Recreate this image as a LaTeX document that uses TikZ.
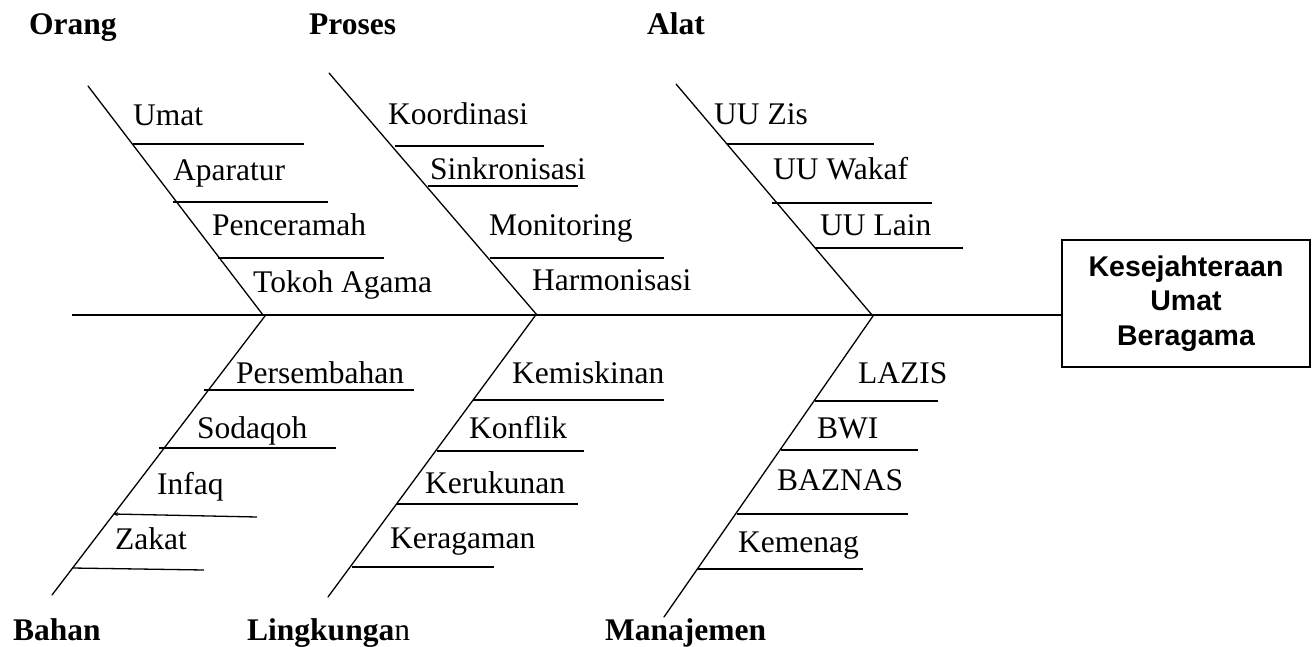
\documentclass[tikz,border=0pt]{standalone}
\usepackage{fontspec}
\setmainfont{Liberation Serif}
\newfontfamily\boxfont{Liberation Sans}
\usetikzlibrary{arrows.meta}
\tikzset{
  bone/.style={line width=1.3pt, line cap=round},
  rib/.style={line width=1.3pt},
  lbl/.style={anchor=base west, inner sep=0pt, font=\fontsize{31.5}{36}\selectfont},
  head/.style={anchor=base west, inner sep=0pt, font=\fontsize{31.5}{36}\selectfont\bfseries},
  effect/.style={draw, line width=1.3pt, minimum width=248pt, minimum height=127pt, inner sep=0pt}
}
\begin{document}
\begin{tikzpicture}[x=1pt,y=-1pt]
\useasboundingbox (0,0) rectangle (1314,647);
% effect box
\node[effect] (box) at (1186,303.5) {};
\node[align=center, inner sep=0pt, font=\boxfont\bfseries\fontsize{28.5}{34.5}\selectfont] (boxtxt) at (1186,303.5) {Kesejahteraan\\Umat\\Beragama};
% spine
\coordinate (tail) at (72,315);
\draw[rib] (tail) -- (tail -| box.west);
% bone coordinates
\coordinate (oT) at (88,86);   \coordinate (oJ) at (263,315);
\coordinate (pT) at (329,73);  \coordinate (pJ) at (537,315);
\coordinate (aT) at (676,84);  \coordinate (aJ) at (872,315);
\coordinate (bJ) at (265,316); \coordinate (bE) at (52,595);
\coordinate (lJ) at (535,316); \coordinate (lE) at (328,597);
\coordinate (mJ) at (873,316); \coordinate (mE) at (664,617);
\draw[bone] (oT) -- (oJ);
\draw[bone] (pT) -- (pJ);
\draw[bone] (aT) -- (aJ);
\draw[bone] (bJ) -- (bE);
\draw[bone] (lJ) -- (lE);
\draw[bone] (mJ) -- (mE);
% headings
\node[head] (hOrang) at (29,35) {Orang};
\node[head] (hProses) at (309,35) {Proses};
\node[head] (hAlat) at (647,35) {Alat};
\node[head] (hBahan) at (13,640) {Bahan};
\node[lbl] (hLing) at (247,640) {{\bfseries Lingkunga}n};
\node[head] (hMan) at (605,640) {Manajemen};
% Orang
\node[lbl] (umat) at (133,126) {Umat};
\node[lbl] (aparatur) at (173,181) {Aparatur};
\node[lbl] (penceramah) at (212,236) {Penceramah};
\node[lbl] (tokoh) at (253,292) {Tokoh Agama};
\coordinate (o1a) at (133,144); \coordinate (o1b) at (304,144);
\coordinate (o2a) at (173,202); \coordinate (o2b) at (328,202);
\coordinate (o3a) at (218,258); \coordinate (o3b) at (384,258);
\draw[rib] (o1a) -- (o1b); \draw[rib] (o2a) -- (o2b); \draw[rib] (o3a) -- (o3b);
% Proses
\node[lbl] (koord) at (388,125) {Koordinasi};
\node[lbl] (sinkron) at (430,180) {Sinkronisasi};
\node[lbl] (monit) at (489,236) {Monitoring};
\node[lbl] (harmon) at (532,290) {Harmonisasi};
\coordinate (p1a) at (395,146); \coordinate (p1b) at (544,146);
\coordinate (p2a) at (428,186); \coordinate (p2b) at (578,186);
\coordinate (p3a) at (490,258); \coordinate (p3b) at (664,258);
\draw[rib] (p1a) -- (p1b); \draw[rib] (p2a) -- (p2b); \draw[rib] (p3a) -- (p3b);
% Alat
\node[lbl] (uuzis) at (714,125) {UU Zis};
\node[lbl] (uuwakaf) at (773,180) {UU Wakaf};
\node[lbl] (uulain) at (820,235) {UU Lain};
\coordinate (a1a) at (727,144); \coordinate (a1b) at (874,144);
\coordinate (a2a) at (772,203); \coordinate (a2b) at (932,203);
\coordinate (a3a) at (815,248); \coordinate (a3b) at (963,248);
\draw[rib] (a1a) -- (a1b); \draw[rib] (a2a) -- (a2b); \draw[rib] (a3a) -- (a3b);
% Bahan
\node[lbl] (persemb) at (236,383) {Persembahan};
\node[lbl] (sodaqoh) at (197,438) {Sodaqoh};
\node[lbl] (infaq) at (157,494) {Infaq};
\node[lbl] (zakat) at (115,549) {Zakat};
\coordinate (b1a) at (204,390); \coordinate (b1b) at (414,390);
\coordinate (b2a) at (159,448); \coordinate (b2b) at (336,448);
\coordinate (b3a) at (113,514); \coordinate (b3b) at (257,517);
\coordinate (b4a) at (72,568);  \coordinate (b4b) at (204,570);
\draw[rib] (b1a) -- (b1b); \draw[rib] (b2a) -- (b2b);
\draw[rib, -{Stealth[length=5pt,width=4pt]}] (b3b) -- (b3a);
\draw[rib] (b4a) -- (b4b);
% Lingkungan
\node[lbl] (kemisk) at (512,383) {Kemiskinan};
\node[lbl] (konflik) at (469,438) {Konflik};
\node[lbl] (kerukun) at (425,493) {Kerukunan};
\node[lbl] (keragam) at (390,548) {Keragaman};
\coordinate (l1a) at (473,400); \coordinate (l1b) at (664,400);
\coordinate (l2a) at (437,451); \coordinate (l2b) at (584,451);
\coordinate (l3a) at (397,504); \coordinate (l3b) at (578,504);
\coordinate (l4a) at (352,567); \coordinate (l4b) at (494,567);
\draw[rib] (l1a) -- (l1b); \draw[rib] (l2a) -- (l2b); \draw[rib] (l3a) -- (l3b); \draw[rib] (l4a) -- (l4b);
% Manajemen
\node[lbl] (lazis) at (858,383) {LAZIS};
\node[lbl] (bwi) at (817,438) {BWI};
\node[lbl] (baznas) at (777,490) {BAZNAS};
\node[lbl] (kemenag) at (738,552) {Kemenag};
\coordinate (m1a) at (815,401); \coordinate (m1b) at (938,401);
\coordinate (m2a) at (781,450); \coordinate (m2b) at (918,450);
\coordinate (m3a) at (737,514); \coordinate (m3b) at (908,514);
\coordinate (m4a) at (698,569); \coordinate (m4b) at (863,569);
\draw[rib] (m1a) -- (m1b); \draw[rib] (m2a) -- (m2b); \draw[rib] (m3a) -- (m3b); \draw[rib] (m4a) -- (m4b);
\end{tikzpicture}
\end{document}
